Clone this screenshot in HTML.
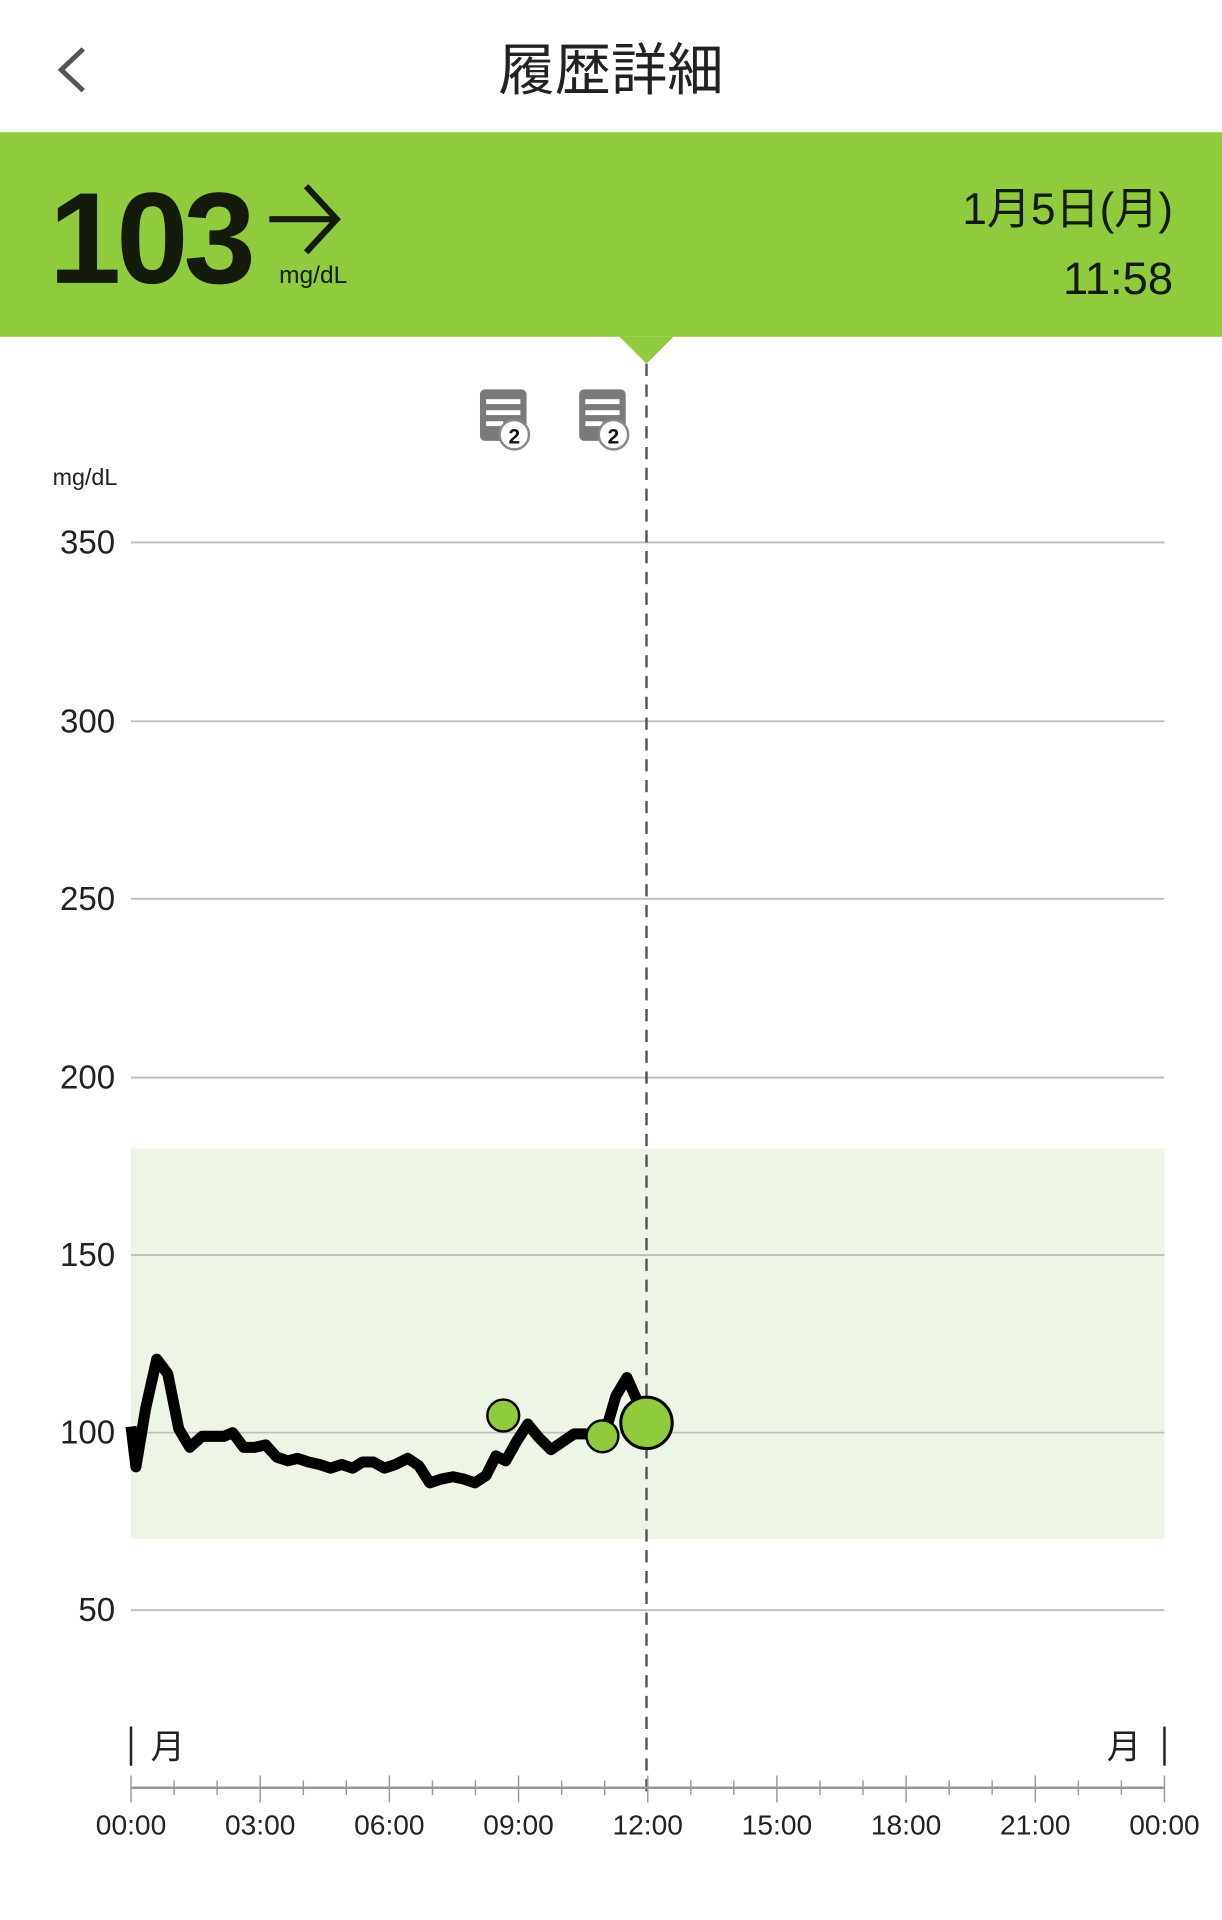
<!DOCTYPE html>
<html><head><meta charset="utf-8"><style>
html,body{margin:0;padding:0;background:#fff;}
svg{display:block;}
text{font-family:"Liberation Sans","Noto Sans CJK JP",sans-serif;}
</style></head><body>
<svg width="1222" height="1920" viewBox="0 0 998 1568" xmlns="http://www.w3.org/2000/svg">
<rect width="998" height="1568" fill="#fff"/>
<polyline points="68,40 50,57 68,74" fill="none" stroke="#555" stroke-width="4"/>
<text x="499" y="73" text-anchor="middle" font-size="46" fill="#222" font-family="Noto Sans CJK JP, sans-serif">履歴詳細</text>
<rect x="0" y="108" width="998" height="167" fill="#8fcb3c"/>
<polygon points="506,275 550,275 528,297" fill="#8fcb3c"/>
<text x="40" y="231" font-size="106" font-weight="bold" fill="#141a0c" letter-spacing="-4">103</text>
<g stroke="#141a0c" stroke-width="5" fill="none"><line x1="220" y1="179" x2="274" y2="179"/><polyline points="250,152 275,179 250,206"/></g>
<text x="228" y="231" font-size="20" fill="#141a0c">mg/dL</text>
<text x="958" y="183" text-anchor="end" font-size="36" fill="#141a0c" font-family="Noto Sans CJK JP, sans-serif">1月5日(月)</text>
<text x="958" y="240" text-anchor="end" font-size="37" fill="#141a0c">11:58</text>
<g>
<rect x="392" y="318" width="38" height="42" rx="4" fill="#7a7a7a"/>
<rect x="397" y="326" width="28" height="4" fill="#fff"/><rect x="397" y="335" width="28" height="4" fill="#fff"/><rect x="397" y="344" width="14" height="4" fill="#fff"/>
<circle cx="420" cy="355" r="12" fill="#fff" stroke="#888" stroke-width="2"/>
<text x="420" y="362" text-anchor="middle" font-size="17" font-weight="bold" fill="#111">2</text>
<rect x="473" y="318" width="38" height="42" rx="4" fill="#7a7a7a"/>
<rect x="478" y="326" width="28" height="4" fill="#fff"/><rect x="478" y="335" width="28" height="4" fill="#fff"/><rect x="478" y="344" width="14" height="4" fill="#fff"/>
<circle cx="501" cy="355" r="12" fill="#fff" stroke="#888" stroke-width="2"/>
<text x="501" y="362" text-anchor="middle" font-size="17" font-weight="bold" fill="#111">2</text>
</g>
<text x="43" y="396" font-size="19" fill="#222">mg/dL</text>
<rect x="107" y="938" width="844" height="319" fill="#edf6e6"/>
<g stroke="#bdbdbd" stroke-width="1.5">
<line x1="107" y1="443" x2="951" y2="443"/><line x1="107" y1="589" x2="951" y2="589"/>
<line x1="107" y1="734" x2="951" y2="734"/><line x1="107" y1="880" x2="951" y2="880"/>
<line x1="107" y1="1025" x2="951" y2="1025"/><line x1="107" y1="1170" x2="951" y2="1170"/>
<line x1="107" y1="1315" x2="951" y2="1315"/>
</g>
<g font-size="27" fill="#222" text-anchor="end">
<text x="94" y="452">350</text><text x="94" y="598">300</text><text x="94" y="743">250</text>
<text x="94" y="889">200</text><text x="94" y="1034">150</text><text x="94" y="1179">100</text>
<text x="94" y="1324">50</text>
</g>
<line x1="528" y1="297" x2="528" y2="1470" stroke="#555" stroke-width="2" stroke-dasharray="10,7"/>
<polyline fill="none" stroke="#000" stroke-width="9" stroke-linejoin="round" points="107,1165 111,1198 119,1150 128,1110 137,1122 146,1167 155,1182 165,1173 175,1173 183,1173 190,1170 199,1182 208,1182 217,1180 226,1190 235,1193 243,1191 252,1194 261,1196 270,1199 279,1196 288,1199 296,1194 305,1194 314,1199 323,1196 333,1191 342,1197 351,1211 360,1208 370,1206 379,1208 388,1211 397,1205 405,1189 413,1193 422,1177 431,1163 440,1174 450,1184 460,1177 469,1171 478,1171 487,1173 496,1164 503,1140 512,1125 520,1143"/>
<circle cx="411" cy="1156" r="13" fill="#8fcb3c" stroke="#000" stroke-width="2"/>
<circle cx="492" cy="1173" r="13" fill="#8fcb3c" stroke="#000" stroke-width="2"/>
<circle cx="528" cy="1162" r="21" fill="#8fcb3c" stroke="#000" stroke-width="2.5"/>
<line x1="107" y1="1410" x2="107" y2="1442" stroke="#222" stroke-width="2"/>
<line x1="951" y1="1410" x2="951" y2="1442" stroke="#222" stroke-width="2"/>
<text x="123" y="1436" font-size="28" fill="#222" font-family="Noto Sans CJK JP, sans-serif">月</text>
<text x="932" y="1436" font-size="28" fill="#222" text-anchor="end" font-family="Noto Sans CJK JP, sans-serif">月</text>
<line x1="107" y1="1460" x2="951" y2="1460" stroke="#999" stroke-width="2"/>
<g stroke="#999" stroke-width="1.2">
<line x1="107" y1="1450" x2="107" y2="1472"/><line x1="142.2" y1="1454" x2="142.2" y2="1466"/><line x1="177.3" y1="1454" x2="177.3" y2="1466"/>
<line x1="212.5" y1="1450" x2="212.5" y2="1472"/><line x1="247.7" y1="1454" x2="247.7" y2="1466"/><line x1="282.8" y1="1454" x2="282.8" y2="1466"/>
<line x1="318" y1="1450" x2="318" y2="1472"/><line x1="353.2" y1="1454" x2="353.2" y2="1466"/><line x1="388.3" y1="1454" x2="388.3" y2="1466"/>
<line x1="423.5" y1="1450" x2="423.5" y2="1472"/><line x1="458.7" y1="1454" x2="458.7" y2="1466"/><line x1="493.8" y1="1454" x2="493.8" y2="1466"/>
<line x1="529" y1="1450" x2="529" y2="1472"/><line x1="564.2" y1="1454" x2="564.2" y2="1466"/><line x1="599.3" y1="1454" x2="599.3" y2="1466"/>
<line x1="634.5" y1="1450" x2="634.5" y2="1472"/><line x1="669.7" y1="1454" x2="669.7" y2="1466"/><line x1="704.8" y1="1454" x2="704.8" y2="1466"/>
<line x1="740" y1="1450" x2="740" y2="1472"/><line x1="775.2" y1="1454" x2="775.2" y2="1466"/><line x1="810.3" y1="1454" x2="810.3" y2="1466"/>
<line x1="845.5" y1="1450" x2="845.5" y2="1472"/><line x1="880.7" y1="1454" x2="880.7" y2="1466"/><line x1="915.8" y1="1454" x2="915.8" y2="1466"/>
<line x1="951" y1="1450" x2="951" y2="1472"/>
</g>
<g font-size="23" fill="#222" text-anchor="middle">
<text x="107" y="1498">00:00</text><text x="212.5" y="1498">03:00</text><text x="318" y="1498">06:00</text>
<text x="423.5" y="1498">09:00</text><text x="529" y="1498">12:00</text><text x="634.5" y="1498">15:00</text>
<text x="740" y="1498">18:00</text><text x="845.5" y="1498">21:00</text><text x="951" y="1498">00:00</text>
</g>
</svg>
</body></html>
